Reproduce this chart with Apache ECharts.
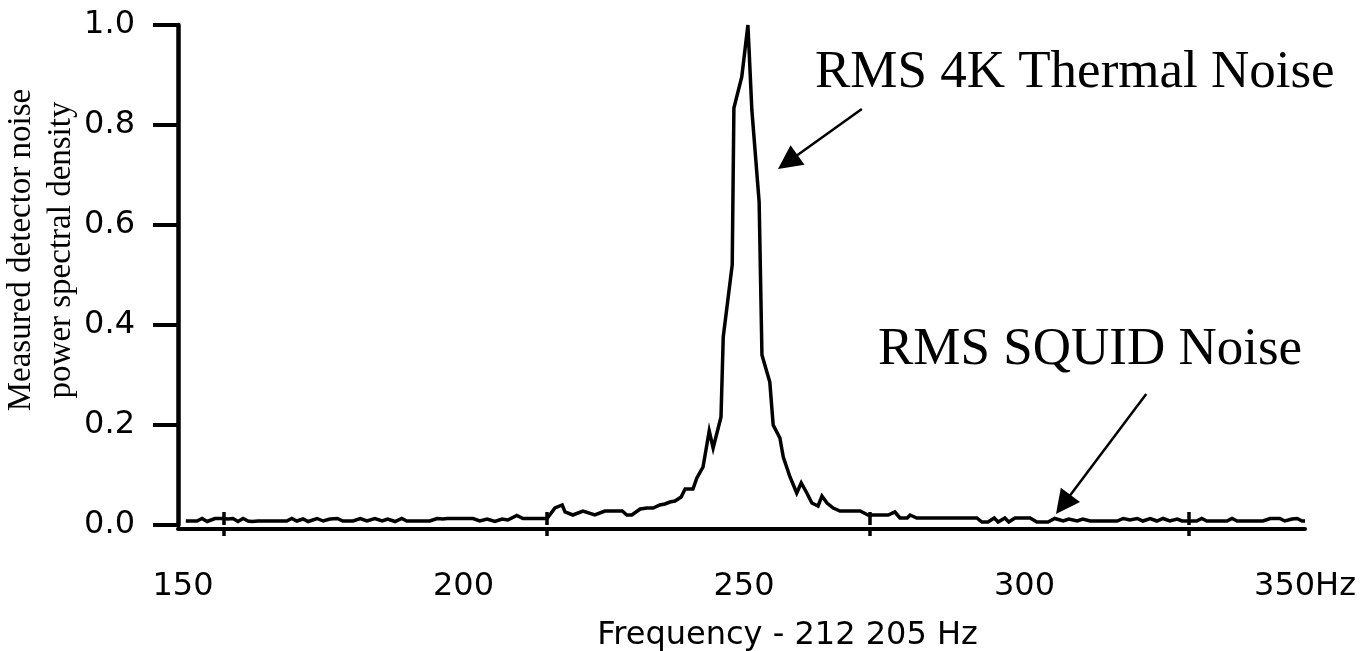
<!DOCTYPE html>
<html><head><meta charset="utf-8">
<script src="https://cdn.jsdelivr.net/npm/echarts@6/dist/echarts.min.js"></script>
<style>html,body{margin:0;padding:0;background:#fff}#chart{width:1369px;height:651px}</style>
</head><body><div id="chart"></div>
<script>
// Frequency offset (Hz) and measured noise PSD (normalised)
const freqHz = [150.5,152.5,153.4,154.3,155.7,157.0,158.0,158.9,159.8,160.7,161.6,162.3,163.4,168.5,169.4,170.3,171.4,172.3,173.9,175.0,176.2,177.5,178.5,180.3,181.6,182.8,184.2,185.5,186.5,187.8,189.0,189.9,191.0,194.0,195.3,196.3,197.1,201.7,202.9,204.2,205.6,206.9,207.9,209.5,210.6,214.9,216.3,217.6,218.1,219.5,221.3,223.4,225.2,228.3,229.1,230.0,231.5,232.7,233.8,235.0,235.9,236.8,237.7,238.8,239.5,240.9,241.6,242.7,243.8,244.5,245.9,246.3,247.9,248.2,249.6,250.7,251.4,252.7,253.2,254.6,255.2,256.4,257.0,258.2,259.4,260.2,261.2,262.1,263.2,263.9,264.8,265.9,267.1,270.7,272.1,275.7,276.9,277.8,279.1,279.6,280.8,291.5,292.4,293.5,294.6,295.3,296.5,297.2,298.3,301.0,302.2,304.2,305.4,306.9,307.9,309.4,310.4,311.7,316.5,317.6,318.8,320.1,321.1,322.4,323.6,324.7,325.9,327.2,328.1,330.7,331.6,332.5,336.1,337.0,337.9,342.5,343.8,345.5,346.4,347.7,348.6,349.5,350.0];
const psd = [0.008,0.008,0.013,0.007,0.013,0.013,0.012,0.013,0.007,0.013,0.008,0.007,0.008,0.008,0.013,0.008,0.012,0.007,0.013,0.008,0.012,0.013,0.008,0.008,0.013,0.008,0.013,0.008,0.012,0.007,0.013,0.008,0.008,0.008,0.013,0.012,0.013,0.013,0.008,0.012,0.007,0.012,0.010,0.019,0.013,0.013,0.034,0.040,0.026,0.020,0.028,0.020,0.028,0.028,0.020,0.020,0.032,0.034,0.034,0.040,0.042,0.046,0.048,0.056,0.072,0.072,0.094,0.116,0.188,0.154,0.216,0.376,0.520,0.834,0.896,1.000,0.830,0.646,0.340,0.286,0.200,0.174,0.136,0.096,0.064,0.084,0.064,0.044,0.038,0.058,0.044,0.034,0.028,0.028,0.020,0.020,0.026,0.014,0.014,0.020,0.014,0.014,0.006,0.006,0.014,0.006,0.014,0.006,0.014,0.014,0.006,0.006,0.013,0.008,0.012,0.008,0.012,0.008,0.008,0.013,0.010,0.013,0.008,0.013,0.008,0.013,0.008,0.012,0.008,0.008,0.013,0.008,0.008,0.013,0.008,0.008,0.013,0.013,0.008,0.012,0.013,0.008,0.008];
const xLabelValues = [150, 200, 250, 300, 350];
const xTickValues = [157.3, 214.9, 272.5, 329.3];
const xName = 'Frequency - 212 205 Hz';
const yName = 'Measured detector noise\npower spectral density';
const annotations = ['RMS 4K Thermal Noise', 'RMS SQUID Noise'];
// arrows: [tailHz, tailVal, headCentreHz, headCentreVal] (triangle head is centred on its end point)
const arrows = [[271.0, 0.832, 257.8, 0.726], [321.7, 0.262, 306.9, 0.041]];

const X_MIN = 149.11, X_MAX = 350;
const sans = 'DejaVu Sans', serif = 'Liberation Serif';

const chart = echarts.init(document.getElementById('chart'), null, {renderer: 'canvas'});
chart.setOption({
  animation: false,
  backgroundColor: '#fff',
  grid: {left: 178, right: 64, top: 25, bottom: 126, containLabel: false, outerBoundsMode: 'none'},
  xAxis: [{
    type: 'value', min: X_MIN, max: X_MAX, position: 'bottom', offset: 4,
    axisLine: {show: true, onZero: false, lineStyle: {color: '#000', width: 4}},
    axisTick: {show: true, customValues: xTickValues, length: 7, inside: false, lineStyle: {color: '#000', width: 3.5}},
    axisLabel: {show: true, customValues: xLabelValues, margin: 42, color: '#000', fontFamily: sans, fontSize: 32,
      formatter: v => (v === 350 ? '350Hz' : String(v))},
    splitLine: {show: false},
    name: xName, nameLocation: 'middle', nameGap: 91, nameMoveOverlap: false,
    nameTextStyle: {color: '#000', fontFamily: sans, fontSize: 32, padding: [0, 0, 0, 92]}
  }, {
    type: 'value', min: X_MIN, max: X_MAX, position: 'bottom', offset: 4,
    axisLine: {show: false},
    axisTick: {show: true, customValues: xTickValues, length: 13, inside: true, lineStyle: {color: '#000', width: 3.5}},
    axisLabel: {show: false}, splitLine: {show: false}
  }],
  yAxis: {
    type: 'value', min: 0, max: 1, interval: 0.2,
    axisLine: {show: true, lineStyle: {color: '#000', width: 4.5}},
    axisTick: {show: true, length: 25, lineStyle: {color: '#000', width: 4}},
    axisLabel: {margin: 43, color: '#000', fontFamily: sans, fontSize: 32, padding: [6, 0, 0, 0], formatter: v => v.toFixed(1)},
    splitLine: {show: false},
    name: yName, nameLocation: 'middle', nameGap: 97, nameMoveOverlap: false,
    nameTextStyle: {color: '#000', fontFamily: serif, fontSize: 33, lineHeight: 40, padding: [0, 0, 0, 50]}
  },
  series: [{
    type: 'line', xAxisIndex: 0, showSymbol: false, symbol: 'none', clip: false,
    data: freqHz.map((f, i) => [f, psd[i]]),
    lineStyle: {color: '#000', width: 3.5, join: 'miter'},
    markLine: {
      silent: true, symbol: ['none', 'triangle'], symbolSize: 24,
      label: {show: false},
      lineStyle: {color: '#000', width: 2.5, type: 'solid'},
      data: arrows.map(a => [{coord: [a[0], a[1]]}, {coord: [a[2], a[3]]}])
    }
  }],
  graphic: [
    {type: 'text', left: 815, top: 47, style: {text: annotations[0], fill: '#000', font: '53px "Liberation Serif"'}},
    {type: 'text', left: 878, top: 324, style: {text: annotations[1], fill: '#000', font: '53px "Liberation Serif"'}}
  ]
});
</script></body></html>
